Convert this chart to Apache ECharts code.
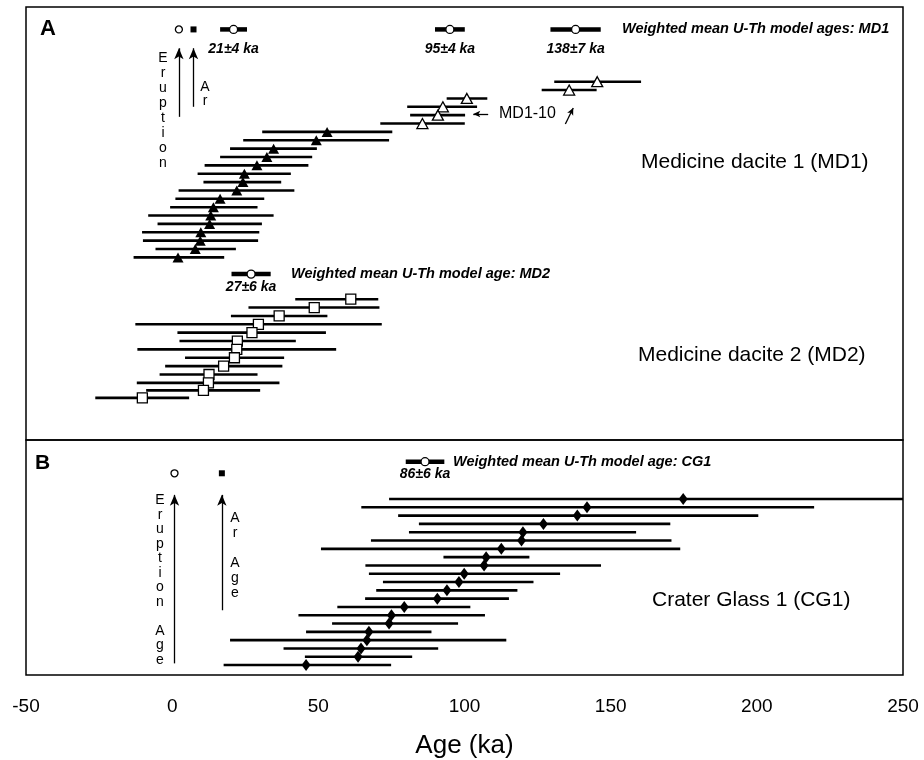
<!DOCTYPE html>
<html>
<head>
<meta charset="utf-8">
<title>U-Th model ages</title>
<script src="https://cdn.jsdelivr.net/npm/echarts@6.0.0/dist/echarts.min.js"></script>
<style>
  html, body { margin: 0; padding: 0; background: #fff; }
  #chart { width: 924px; height: 760px; }
</style>
</head>
<body>
<div id="chart"></div>
<script>
  // x axis ticks (ka)
  const xTicks = [-50, 0, 50, 100, 150, 200, 250];

  // MD1, filled triangles (row = order from top in panel A)
  const md1Rows = [15, 16, 17, 18, 19, 20, 21, 22, 23, 24, 25, 26, 27, 28, 29, 30];
  const md1Age = [53.0, 49.3, 34.7, 32.4, 29.0, 24.7, 24.2, 22.1, 16.4, 14.1, 13.2, 12.8, 9.8, 9.6, 7.9, 2.0];
  const md1Low = [30.8, 24.3, 19.8, 16.4, 11.1, 8.7, 10.7, 2.2, 1.1, -0.7, -8.2, -5.0, -10.3, -10.0, -5.7, -13.2];
  const md1High = [75.3, 74.2, 49.5, 47.9, 46.6, 40.6, 37.3, 41.8, 31.5, 29.2, 34.7, 30.7, 29.8, 29.4, 21.8, 17.8];

  // MD1-10, open triangles
  const md110Rows = [9, 10, 11, 12, 13, 14];
  const md110Age = [145.4, 135.8, 100.8, 92.6, 90.9, 85.6];
  const md110Low = [130.7, 126.4, 93.9, 80.4, 81.4, 71.2];
  const md110High = [160.4, 145.2, 107.8, 104.3, 100.2, 100.1];

  // MD2, open squares
  const md2Rows = [35, 36, 37, 38, 39, 40, 41, 42, 43, 44, 45, 45.9, 46.8];
  const md2Age = [61.1, 48.6, 36.6, 29.5, 27.3, 22.3, 22.1, 21.3, 17.6, 12.6, 12.4, 10.7, -10.2];
  const md2Low = [42.1, 26.1, 20.1, -12.6, 1.8, 2.5, -11.9, 4.4, -2.4, -4.3, -12.1, -8.9, -26.3];
  const md2High = [70.5, 70.9, 53.1, 71.7, 52.6, 42.3, 56.1, 38.3, 37.7, 29.2, 36.7, 30.1, 5.8];

  // CG1, filled diamonds (panel B)
  const cg1Rows = [7, 8, 9, 10, 11, 12, 13, 14, 15, 16, 17, 18, 19, 20, 21, 22, 23, 24, 25, 26, 27];
  const cg1Age = [174.8, 141.9, 138.6, 127.0, 120.0, 119.5, 112.6, 107.4, 106.7, 99.9, 98.1, 94.0, 90.7, 79.4, 75.0, 74.2, 67.3, 66.6, 64.6, 63.6, 45.8];
  const cg1Low = [74.2, 64.7, 77.3, 84.4, 81.0, 68.0, 50.9, 92.8, 66.1, 67.3, 72.1, 69.8, 66.0, 56.5, 43.2, 54.7, 45.8, 19.8, 38.1, 45.4, 17.6];
  const cg1High = [265, 219.6, 200.5, 170.4, 158.7, 170.8, 173.8, 122.2, 146.7, 132.7, 123.6, 118.1, 115.2, 102.0, 107.0, 97.8, 88.7, 114.3, 91.0, 82.1, 74.9];

  // weighted mean U-Th model ages
  const wmMd1Age = [21, 95, 138];
  const wmMd1Err = [4.6, 5.1, 8.6];
  const wmMd1Label = ['21±4 ka', '95±4 ka', '138±7 ka'];
  const wmMd1Row = 2.75;
  const wmMd2Age = [27];
  const wmMd2Err = [6.7];
  const wmMd2Label = ['27±6 ka'];
  const wmMd2Row = 32;
  const wmCg1Age = [86.5];
  const wmCg1Err = [6.6];
  const wmCg1Label = ['86±6 ka'];
  const wmCg1Row = 2.5;

  // eruption age (open circle) and Ar age (filled square), with arrows
  const eruptA = 2.3, arA = 7.3, markRowA = 2.75;
  const eruptB = 0.8, arB = 17, markRowB = 3.9;
  const arrowA = { eruptFrom: 13.2, arFrom: 12.0, to: 5.0 };
  const arrowB = { eruptFrom: 26.8, arFrom: 20.4, to: 6.5 };

  const FONT = '"Liberation Sans", Arial, Helvetica, sans-serif';

  function bars(low, high, rows) {
    return rows.map(function (r, i) { return [low[i], high[i], r]; });
  }
  function points(age, rows) {
    return rows.map(function (r, i) { return [age[i], r]; });
  }
  function wmBars(age, err, row) {
    return age.map(function (a, i) { return [a - err[i], a + err[i], row]; });
  }
  function wmPoints(age, row, labels) {
    return age.map(function (a, i) {
      return { value: [a, row], label: { formatter: labels[i], color: '#000' } };
    });
  }

  // horizontal error bar drawn through the axes
  function barRenderer(width) {
    return function (params, api) {
      const a = api.coord([api.value(0), api.value(2)]);
      const b = api.coord([api.value(1), api.value(2)]);
      const cs = params.coordSys;
      const x1 = Math.max(a[0], cs.x);
      const x2 = Math.min(b[0], cs.x + cs.width);
      return {
        type: 'line',
        shape: { x1: x1, y1: a[1], x2: x2, y2: b[1] },
        style: { stroke: '#000', lineWidth: width, lineCap: 'butt' }
      };
    };
  }

  function barSeries(data, grid, width) {
    return {
      type: 'custom',
      xAxisIndex: grid, yAxisIndex: grid,
      renderItem: barRenderer(width),
      encode: { x: [0, 1], y: 2 },
      data: data,
      z: 2
    };
  }

  function markSeries(data, grid, symbol, size, filled) {
    return {
      type: 'scatter',
      xAxisIndex: grid, yAxisIndex: grid,
      symbol: symbol,
      symbolSize: size,
      itemStyle: filled ? { color: '#000', opacity: 1 } : { color: '#fff', borderColor: '#000', borderWidth: 1.3, opacity: 1 },
      data: data,
      z: 3
    };
  }

  function arrow(x1, y1, x2, y2, head) {
    return [
      { coord: [x1, y1], symbol: 'none' },
      { coord: [x2, y2], symbol: 'arrow', symbolSize: head }
    ];
  }

  function wmLabelSeries(data, grid, dist) {
    const s = markSeries(data, grid, 'circle', 8, false);
    s.label = {
      show: true, position: 'bottom', distance: dist,
      color: '#000', textBorderWidth: 0, opacity: 1,
      fontFamily: FONT, fontSize: 14, fontWeight: 'bold', fontStyle: 'italic'
    };
    s.z = 4;
    return s;
  }

  const chart = echarts.init(document.getElementById('chart'));

  const option = {
    animation: false,
    backgroundColor: '#fff',
    grid: [
      { left: 26, right: 21, top: 7, height: 433, show: true, borderColor: '#000', borderWidth: 1.5 },
      { left: 26, right: 21, top: 440, height: 235, show: true, borderColor: '#000', borderWidth: 1.5 }
    ],
    xAxis: [
      { gridIndex: 0, type: 'value', min: xTicks[0], max: xTicks[xTicks.length - 1], interval: 50, show: false },
      {
        gridIndex: 1, type: 'value', min: xTicks[0], max: xTicks[xTicks.length - 1], interval: 50,
        axisLine: { show: false }, axisTick: { show: false }, splitLine: { show: false },
        axisLabel: { color: '#000', fontFamily: FONT, fontSize: 19, margin: 22 },
        name: 'Age (ka)', nameLocation: 'middle', nameGap: 58,
        nameTextStyle: { color: '#000', fontFamily: FONT, fontSize: 26 }
      }
    ],
    yAxis: [
      { gridIndex: 0, type: 'value', min: 0.07, max: 51.83, inverse: true, show: false },
      { gridIndex: 1, type: 'value', min: -0.11, max: 28.2, inverse: true, show: false }
    ],
    series: [
      // panel A
      barSeries(bars(md1Low, md1High, md1Rows), 0, 2.6),
      markSeries(points(md1Age, md1Rows), 0, 'triangle', [11, 10], true),
      barSeries(bars(md110Low, md110High, md110Rows), 0, 2.6),
      markSeries(points(md110Age, md110Rows), 0, 'triangle', [11, 10], false),
      barSeries(bars(md2Low, md2High, md2Rows), 0, 2.6),
      markSeries(points(md2Age, md2Rows), 0, 'rect', 10, false),
      barSeries(wmBars(wmMd1Age, wmMd1Err, wmMd1Row), 0, 4.5),
      wmLabelSeries(wmPoints(wmMd1Age, wmMd1Row, wmMd1Label), 0, 8),
      barSeries(wmBars(wmMd2Age, wmMd2Err, wmMd2Row), 0, 4.5),
      wmLabelSeries(wmPoints(wmMd2Age, wmMd2Row, wmMd2Label), 0, 1),
      markSeries([[eruptA, markRowA]], 0, 'circle', 7, false),
      {
        type: 'scatter', xAxisIndex: 0, yAxisIndex: 0,
        symbol: 'rect', symbolSize: 6, itemStyle: { color: '#000', opacity: 1 },
        data: [[arA, markRowA]],
        markLine: {
          silent: true, label: { show: false },
          lineStyle: { color: '#000', width: 1.3, type: 'solid' },
          data: [
            arrow(eruptA, arrowA.eruptFrom, eruptA, arrowA.to, [7, 11]),
            arrow(arA, arrowA.arFrom, arA, arrowA.to, [7, 11]),
            arrow(108.1, 12.86, 103.0, 12.86, [5, 7]),
            arrow(134.5, 14.06, 137.2, 12.14, [5, 7])
          ]
        }
      },
      // panel B
      barSeries(bars(cg1Low, cg1High, cg1Rows), 1, 2.6),
      markSeries(points(cg1Age, cg1Rows), 1, 'diamond', [9, 12], true),
      barSeries(wmBars(wmCg1Age, wmCg1Err, wmCg1Row), 1, 4.5),
      wmLabelSeries(wmPoints(wmCg1Age, wmCg1Row, wmCg1Label), 1, 1),
      markSeries([[eruptB, markRowB]], 1, 'circle', 7, false),
      {
        type: 'scatter', xAxisIndex: 1, yAxisIndex: 1,
        symbol: 'rect', symbolSize: 6, itemStyle: { color: '#000', opacity: 1 },
        data: [[arB, markRowB]],
        markLine: {
          silent: true, label: { show: false },
          lineStyle: { color: '#000', width: 1.3, type: 'solid' },
          data: [
            arrow(eruptB, arrowB.eruptFrom, eruptB, arrowB.to, [7, 11]),
            arrow(arB, arrowB.arFrom, arB, arrowB.to, [7, 11])
          ]
        }
      }
    ],
    graphic: [
      { type: 'text', x: 40, y: 29, style: { text: 'A', font: 'bold 22px ' + FONT, fill: '#000', textVerticalAlign: 'middle' } },
      { type: 'text', x: 35, y: 463, style: { text: 'B', font: 'bold 21px ' + FONT, fill: '#000', textVerticalAlign: 'middle' } },
      { type: 'text', x: 622, y: 29, style: { text: 'Weighted mean U-Th model ages: MD1', font: 'italic bold 14.5px ' + FONT, fill: '#000', textVerticalAlign: 'middle' } },
      { type: 'text', x: 291, y: 274, style: { text: 'Weighted mean U-Th model age: MD2', font: 'italic bold 14.5px ' + FONT, fill: '#000', textVerticalAlign: 'middle' } },
      { type: 'text', x: 453, y: 462, style: { text: 'Weighted mean U-Th model age: CG1', font: 'italic bold 14.5px ' + FONT, fill: '#000', textVerticalAlign: 'middle' } },
      { type: 'text', x: 499, y: 114, style: { text: 'MD1-10', font: '16px ' + FONT, fill: '#000', textVerticalAlign: 'middle' } },
      { type: 'text', x: 641, y: 162, style: { text: 'Medicine dacite 1 (MD1)', font: '21px ' + FONT, fill: '#000', textVerticalAlign: 'middle' } },
      { type: 'text', x: 638, y: 355, style: { text: 'Medicine dacite 2 (MD2)', font: '21px ' + FONT, fill: '#000', textVerticalAlign: 'middle' } },
      { type: 'text', x: 652, y: 600, style: { text: 'Crater Glass 1 (CG1)', font: '21px ' + FONT, fill: '#000', textVerticalAlign: 'middle' } },
      // vertical labels beside the arrows
      { type: 'text', x: 163, y: 51, style: { text: 'E\nr\nu\np\nt\ni\no\nn', font: '14px ' + FONT, lineHeight: 15, fill: '#000', textAlign: 'center' } },
      { type: 'text', x: 205, y: 80, style: { text: 'A\nr', font: '14px ' + FONT, lineHeight: 14, fill: '#000', textAlign: 'center' } },
      { type: 'text', x: 160, y: 493, style: { text: 'E\nr\nu\np\nt\ni\no\nn\n\nA\ng\ne', font: '14px ' + FONT, lineHeight: 14.5, fill: '#000', textAlign: 'center' } },
      { type: 'text', x: 235, y: 511, style: { text: 'A\nr\n\nA\ng\ne', font: '14px ' + FONT, lineHeight: 15, fill: '#000', textAlign: 'center' } }
    ]
  };

  chart.setOption(option);
</script>
</body>
</html>
